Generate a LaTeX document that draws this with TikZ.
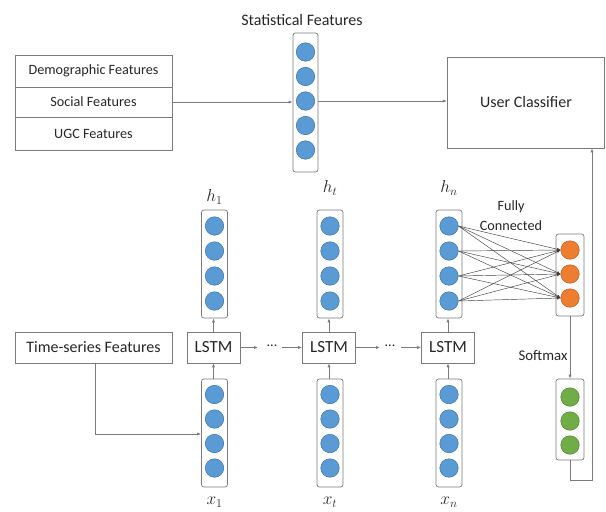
\documentclass[tikz,border=0pt]{standalone}
\usepackage{fontspec}
\setmainfont{Carlito}
\usetikzlibrary{arrows.meta}
\definecolor{cblue}{HTML}{5B9BD5}
\definecolor{cbluel}{HTML}{41719C}
\definecolor{corange}{HTML}{ED7D31}
\definecolor{corangel}{HTML}{AE5A21}
\definecolor{cgreen}{HTML}{70AD47}
\definecolor{cgreenl}{HTML}{507E32}
\definecolor{lgray}{HTML}{7A7A7A}
\definecolor{tgray}{HTML}{262626}
\begin{document}
\begin{tikzpicture}[x=1pt,y=-1pt,
  every node/.style={text=tgray},
  col/.style={draw=lgray,line width=0.7pt,rounded corners=2.5pt,minimum width=26pt,inner sep=0pt},
  neu/.style={circle,draw=cbluel,fill=cblue,line width=0.5pt,minimum size=18.5pt,inner sep=0pt},
  neuo/.style={neu,draw=corangel,fill=corange},
  neug/.style={neu,draw=cgreenl,fill=cgreen},
  box/.style={draw=lgray,line width=0.7pt,inner sep=0pt},
  lab/.style={font=\fontsize{14.2}{16}\selectfont},
  big/.style={font=\fontsize{16}{18}\selectfont},
  mth/.style={font=\fontsize{16.5}{18}\selectfont},
  conn/.style={draw=lgray,line width=0.8pt,-{Latex[length=4pt,width=3.2pt]}},
  fc/.style={draw=black!75,line width=0.45pt,-{Latex[length=3.5pt,width=3pt]}}
]
\useasboundingbox (0,0) rectangle (606,512);
% left feature box
\node[box,minimum width=157pt,minimum height=32pt,lab] (demo) at (93.5,71) {Demographic Features};
\node[box,minimum width=157pt,minimum height=30pt,lab] (soc) at (93.5,102) {Social Features};
\node[box,minimum width=157pt,minimum height=33pt,lab] (ugc) at (93.5,133.5) {UGC Features};
% statistical features
\node[big] (stt) at (302,20) {Statistical Features};
\node[col,minimum width=25pt,minimum height=139pt] (sc) at (305.5,102.5) {};
\foreach \i/\y in {1/52,2/76.5,3/101,4/125.5,5/150} \node[neu] (s\i) at (305.5,\y) {};
% user classifier
\node[box,minimum width=157.5pt,minimum height=91pt,big] (uc) at (526,102.5) {User Classifier};
\draw[conn] (soc.east) -- (sc.west |- soc.east);
\draw[conn] (sc.east |- s3) -- (uc.west |- s3);
% time series
\node[box,minimum width=157pt,minimum height=31pt,big] (ts) at (93.5,347.5) {Time-series Features};
% LSTM units
\foreach \n/\cx in {1/214.5,t/330,n/449}{
  \node[col,minimum height=108pt] (hc\n) at (\cx,264) {};
  \foreach \k/\y in {1/226,2/251,3/276,4/301} \node[neu] (h\n\k) at (\cx,\y) {};
  \node[col,minimum height=108pt] (xc\n) at (\cx,433) {};
  \foreach \k/\y in {1/394.5,2/419,3/443.5,4/468} \node[neu] (x\n\k) at (\cx,\y) {};
  \node[box,minimum width=53pt,minimum height=31pt,font=\fontsize{17}{19}\selectfont] (l\n) at (\cx-1,347.5) {LSTM};
  \node[mth] (xl\n) at (\cx,502) {$x_{\n}$};
  \draw[conn] (xc\n.north -| l\n) -- (l\n.south);
  \draw[conn] (l\n.north) -- (hc\n.south -| l\n);
}
\node[mth] (hl1) at (214.5,197) {$h_{1}$};
\node[mth] (hlt) at (330,188) {$h_{t}$};
\node[mth] (hln) at (449,188) {$h_{n}$};
% recurrent chain
\node[lab] (d1) at (272,346) {...};
\node[lab] (d2) at (390,346) {...};
\draw[conn] (l1.east) -- (258,347.5);
\draw[conn] (282,347.5) -- (lt.west);
\draw[conn] (lt.east) -- (380,347.5);
\draw[conn] (401,347.5) -- (ln.west);
% time series to x1
\coordinate (tsb) at (95,434);
\draw[conn] (ts.south -| tsb) -- (tsb) -- (xc1.west |- tsb);
% output layers
\node[col,minimum width=28pt,minimum height=82pt] (oc) at (570,275) {};
\foreach \k/\y in {1/250,2/274,3/298} \node[neuo] (o\k) at (570,\y) {};
\node[col,minimum width=28pt,minimum height=81pt] (gc) at (570,419.5) {};
\foreach \k/\y in {1/397,2/421,3/445} \node[neug] (g\k) at (570,\y) {};
\foreach \a in {1,2,3,4}{
  \foreach \b in {1,2,3}{
    \draw[fc] (hn\a.east) -- (o\b.west);
  }
}
\node[lab] (fl1) at (511,207) {Fully};
\node[lab] (fl2) at (511,226) {Connected};
\node[font=\fontsize{14.8}{16}\selectfont] (smx) at (543,355) {Softmax};
\draw[conn] (oc.south) -- (gc.north);
\coordinate (r1) at (570,480);
\coordinate (r2) at (592,480);
\draw[conn] (gc.south) -- (r1) -- (r2) -- (uc.south -| r2);
\end{tikzpicture}
\end{document}
